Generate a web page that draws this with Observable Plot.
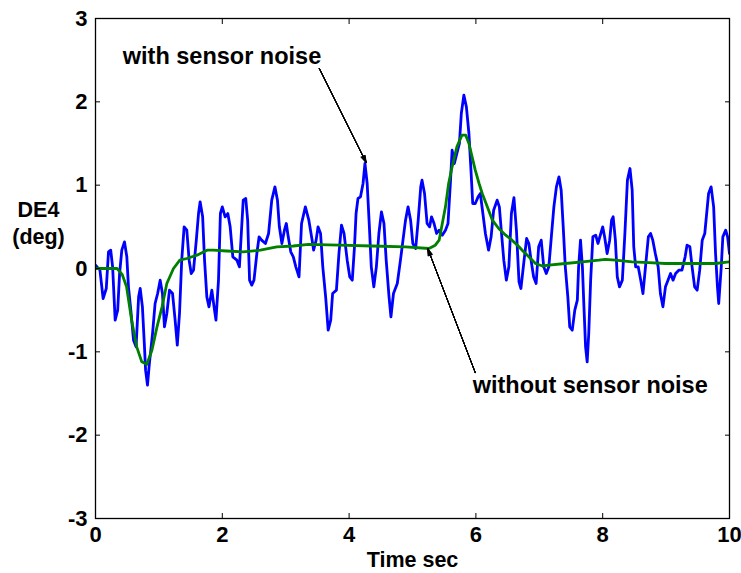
<!DOCTYPE html>
<html>
<head>
<meta charset="utf-8">
<script src="https://cdn.jsdelivr.net/npm/d3@7"></script>
<script src="https://cdn.jsdelivr.net/npm/@observablehq/plot@0.6"></script>
<style>
  html, body { margin: 0; padding: 0; background: #fff; }
</style>
</head>
<body>
<div id="chart"></div>
<script>
// ---- data ----
const timeBlue = [0.00,0.07,0.12,0.17,0.205,0.24,0.27,0.31,0.35,0.38,0.415,0.457,0.494,0.52,0.557,0.60,0.64,0.68,0.705,0.74,0.77,0.79,0.82,0.85,0.90,0.94,0.98,1.02,1.056,1.088,1.125,1.167,1.215,1.256,1.29,1.325,1.36,1.398,1.44,1.477,1.51,1.546,1.59,1.625,1.65,1.69,1.72,1.756,1.79,1.835,1.87,1.90,1.94,1.97,2.00,2.045,2.087,2.124,2.166,2.23,2.27,2.30,2.33,2.37,2.40,2.43,2.465,2.50,2.545,2.58,2.62,2.68,2.73,2.78,2.83,2.87,2.90,2.94,2.98,3.01,3.04,3.08,3.12,3.16,3.21,3.25,3.31,3.365,3.417,3.44,3.48,3.51,3.55,3.585,3.63,3.67,3.71,3.74,3.80,3.84,3.88,3.92,3.97,4.01,4.05,4.085,4.11,4.14,4.18,4.22,4.25,4.285,4.32,4.35,4.39,4.43,4.47,4.51,4.55,4.585,4.63,4.66,4.70,4.76,4.81,4.85,4.89,4.93,4.97,5.005,5.05,5.09,5.13,5.15,5.19,5.23,5.27,5.30,5.34,5.38,5.42,5.47,5.52,5.56,5.60,5.625,5.66,5.70,5.74,5.77,5.81,5.85,5.89,5.925,5.95,5.99,6.035,6.07,6.11,6.15,6.20,6.24,6.28,6.335,6.37,6.40,6.44,6.48,6.52,6.56,6.60,6.64,6.68,6.71,6.76,6.80,6.835,6.87,6.91,6.95,6.99,7.03,7.07,7.11,7.15,7.19,7.23,7.27,7.31,7.345,7.38,7.41,7.45,7.48,7.52,7.56,7.60,7.62,7.65,7.68,7.70,7.73,7.755,7.78,7.81,7.845,7.89,7.925,7.97,8.00,8.03,8.07,8.11,8.14,8.165,8.20,8.23,8.265,8.31,8.35,8.39,8.43,8.465,8.49,8.52,8.56,8.60,8.635,8.675,8.72,8.755,8.79,8.83,8.875,8.91,8.95,8.99,9.03,9.07,9.11,9.15,9.20,9.25,9.30,9.33,9.375,9.41,9.45,9.49,9.53,9.57,9.61,9.64,9.67,9.71,9.75,9.78,9.81,9.83,9.87,9.895,9.94,9.97,10.0];
const blueValues = [0.04,-0.02,-0.36,-0.24,0.20,0.22,0.02,-0.62,-0.50,-0.06,0.22,0.32,0.14,-0.22,-0.50,-0.86,-0.94,-0.34,-0.24,-0.46,-0.90,-1.22,-1.40,-1.14,-0.78,-0.42,-0.30,-0.14,-0.30,-0.70,-0.54,-0.26,-0.30,-0.62,-0.92,-0.54,0.10,0.50,0.46,0.10,-0.06,-0.02,0.34,0.66,0.80,0.62,0.10,-0.34,-0.46,-0.26,-0.46,-0.62,-0.14,0.66,0.74,0.62,0.66,0.50,0.14,0.10,0.02,0.42,0.82,0.84,0.58,-0.14,-0.20,-0.14,0.18,0.38,0.34,0.30,0.42,0.82,0.98,0.82,0.50,0.30,0.46,0.54,0.38,0.20,0.14,0.02,-0.10,0.54,0.74,0.58,0.34,0.22,0.34,0.50,0.42,0.02,-0.34,-0.74,-0.62,-0.30,-0.26,0.18,0.52,0.42,0.10,-0.10,-0.14,0.26,0.66,0.84,0.86,1.02,1.26,1.02,0.50,0.02,-0.22,0.02,0.42,0.68,0.54,0.10,-0.34,-0.58,-0.30,-0.18,0.10,0.34,0.58,0.74,0.58,0.30,0.24,0.58,0.98,1.06,0.90,0.54,0.50,0.62,0.54,0.42,0.46,0.40,0.46,0.54,1.06,1.42,1.26,1.38,1.50,1.86,2.08,1.94,1.62,1.14,0.78,0.78,0.86,0.90,0.66,0.42,0.22,0.38,0.70,0.82,0.74,0.46,0.10,-0.14,0.02,0.66,0.85,0.45,-0.16,-0.24,0.10,0.36,0.30,0.10,-0.10,-0.18,0.26,0.34,0.02,-0.06,0.02,0.38,0.74,0.98,1.10,0.94,0.46,0.02,-0.34,-0.70,-0.74,-0.50,-0.38,0.02,0.34,0.02,-0.38,-0.94,-1.12,-0.78,-0.14,0.38,0.40,0.30,0.42,0.50,0.38,0.18,0.34,0.58,0.62,0.34,-0.10,-0.22,-0.14,0.42,1.06,1.20,0.94,0.26,0.02,0.02,-0.14,-0.30,0.02,0.38,0.42,0.34,0.18,0.02,-0.30,-0.46,-0.22,-0.14,-0.06,-0.14,-0.06,-0.02,-0.02,0.14,0.28,0.26,0.02,-0.22,-0.26,-0.02,0.34,0.42,0.66,0.90,0.98,0.74,0.18,-0.22,-0.42,0.02,0.38,0.46,0.38,0.18];

const timeGreen = [0,0.34,0.42,0.49,0.57,0.65,0.73,0.81,0.89,0.97,1.05,1.125,1.23,1.33,1.44,1.6,1.76,1.86,2.07,2.33,2.6,2.86,3.12,3.36,3.84,4.36,4.89,5.26,5.36,5.42,5.47,5.52,5.57,5.625,5.70,5.78,5.84,5.89,5.94,5.99,6.05,6.10,6.18,6.26,6.36,6.47,6.57,6.68,6.73,6.835,6.94,7.05,7.15,7.41,7.68,7.94,8.04,8.20,8.465,8.73,8.99,9.25,9.52,9.78,10.0];
const greenValues = [0,0,-0.07,-0.22,-0.62,-0.94,-1.12,-1.15,-0.98,-0.70,-0.46,-0.18,0.0,0.10,0.12,0.16,0.22,0.22,0.21,0.20,0.22,0.26,0.27,0.29,0.28,0.27,0.26,0.24,0.28,0.34,0.54,0.74,1.02,1.22,1.46,1.60,1.60,1.50,1.34,1.18,1.02,0.90,0.74,0.58,0.48,0.40,0.34,0.26,0.22,0.14,0.06,0.03,0.04,0.06,0.08,0.10,0.11,0.10,0.08,0.07,0.06,0.06,0.06,0.06,0.08];

const xTicks = [0, 2, 4, 6, 8, 10];
const yTicks = [-3, -2, -1, 0, 1, 2, 3];
const xLabel = "Time sec";
const yLabel = "DE4\n(deg)";

const annoTexts = [
  {x: 0.43, y: 2.46, label: "with sensor noise"},
  {x: 5.95, y: -1.49, label: "without sensor noise"}
];
const annoArrows = [
  {x1: 3.53, y1: 2.40, x2: 4.27, y2: 1.27},
  {x1: 5.99, y1: -1.25, x2: 5.24, y2: 0.24}
];

const blue = timeBlue.map((t, i) => ({t, v: blueValues[i]}));
const green = timeGreen.map((t, i) => ({t, v: greenValues[i]}));
const headAngles = [6, 12, 18, 24, 30, 36];

const font = "'Liberation Sans', Arial, sans-serif";

const chart = Plot.plot({
  width: 741,
  height: 573,
  marginLeft: 95,
  marginRight: 12,
  marginTop: 18,
  marginBottom: 55,
  style: {fontFamily: font, fontSize: "21.5px", fontWeight: "bold", color: "black", background: "white"},
  x: {domain: [0, 10]},
  y: {domain: [-3, 3]},
  marks: [
    Plot.line(blue, {x: "t", y: "v", stroke: "#0000ff", strokeWidth: 2.8, strokeLinejoin: "round", clip: true}),
    Plot.line(green, {x: "t", y: "v", stroke: "#008000", strokeWidth: 2.8, clip: true}),
    ...headAngles.map(a => Plot.arrow(annoArrows, {x1: "x1", y1: "y1", x2: "x2", y2: "y2", stroke: "black", strokeWidth: 1, headLength: 11, headAngle: a})),
    Plot.text(annoTexts, {x: "x", y: "y", text: "label", textAnchor: "start", lineAnchor: "bottom", fill: "black", fontSize: 23.5}),
    // inward ticks on all four sides
    Plot.axisX({ticks: xTicks, anchor: "bottom", tickSize: 5, dy: -5, fill: "none", label: null}),
    Plot.axisX({ticks: xTicks, anchor: "top", tickSize: 5, dy: 5, fill: "none", label: null}),
    Plot.axisY({ticks: yTicks, anchor: "left", tickSize: 5, dx: 5, fill: "none", label: null}),
    Plot.axisY({ticks: yTicks, anchor: "right", tickSize: 5, dx: -5, fill: "none", label: null}),
    // tick labels
    Plot.axisX({ticks: xTicks, anchor: "bottom", tickSize: 0, tickPadding: 8, label: null, fontSize: 22, tickFormat: d => String(d)}),
    Plot.axisY({ticks: yTicks, anchor: "left", tickSize: 0, tickPadding: 8, label: null, fontSize: 22, tickFormat: d => String(d)}),
    Plot.frame({stroke: "black", strokeWidth: 1.3}),
    Plot.text([xLabel], {text: d => d, frameAnchor: "bottom", dy: 42, lineAnchor: "middle", fill: "black"}),
    Plot.text([yLabel], {text: d => d, frameAnchor: "left", dx: -57, dy: -47, lineAnchor: "middle", textAnchor: "middle", lineHeight: 1.25, fill: "black"})
  ]
});
document.getElementById("chart").appendChild(chart);
</script>
</body>
</html>
